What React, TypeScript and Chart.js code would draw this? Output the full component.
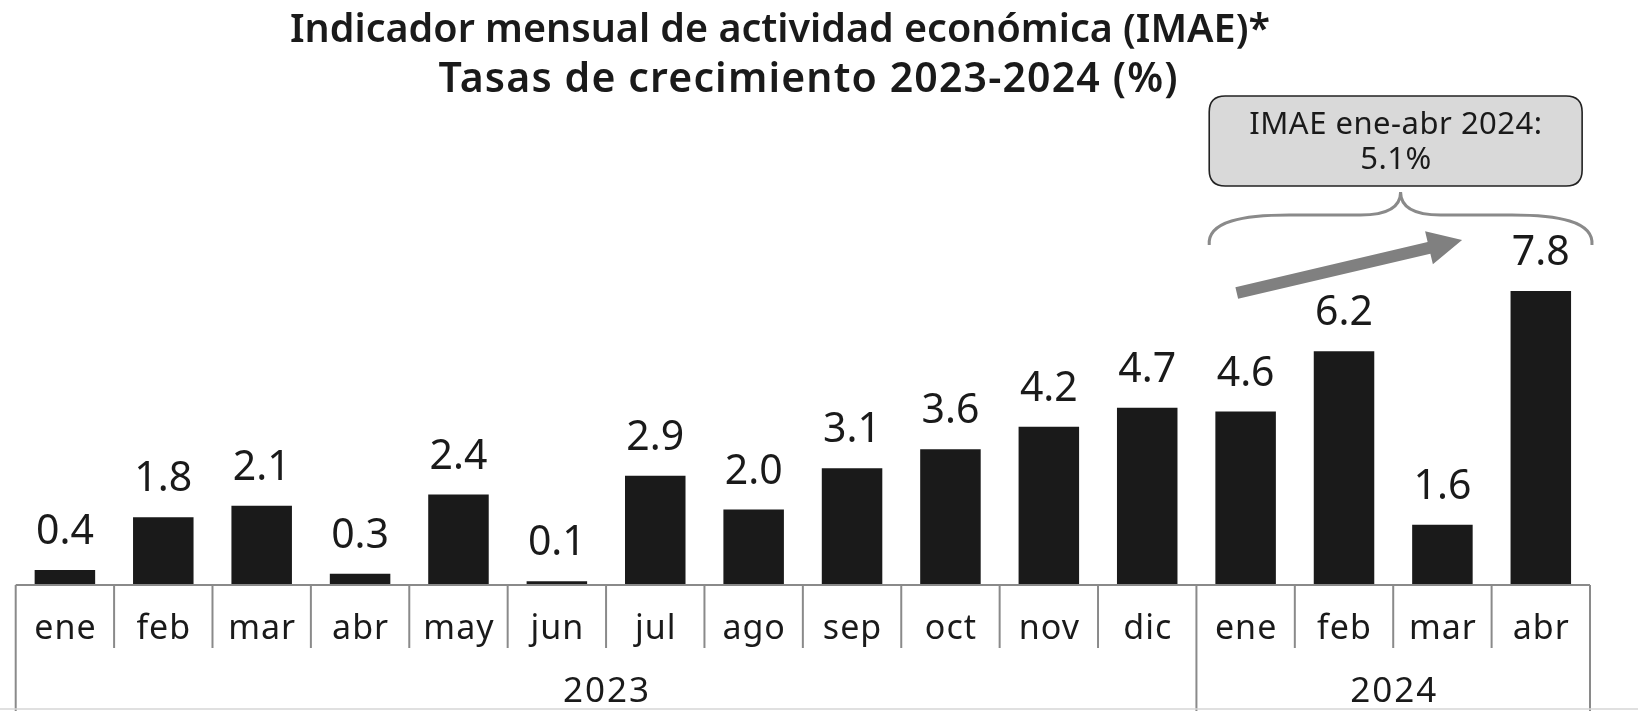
import React, { useEffect, useRef } from "react";
import { Chart, registerables } from "chart.js";

Chart.register(...registerables);

const MONTHS = ["ene", "feb", "mar", "abr", "may", "jun", "jul", "ago", "sep", "oct", "nov", "dic", "ene", "feb", "mar", "abr"];
const VALUES = [0.4, 1.8, 2.1, 0.3, 2.4, 0.1, 2.9, 2.0, 3.1, 3.6, 4.2, 4.7, 4.6, 6.2, 1.6, 7.8];
const YEARS = ["2023", "2024"];
const YEAR_SPANS = [12, 4];
const TITLE_LINES = ["Indicador mensual de actividad económica (IMAE)*", "Tasas de crecimiento 2023-2024 (%)"];
const NOTE_LINES = ["IMAE ene-abr 2024:", "5.1%"];

const FONT = '"Noto Sans", sans-serif';
const INK = "#1a1a1a";
const GRAY = "#8a8a8a";

function fitSize(ctx: CanvasRenderingContext2D, text: string, weight: string, target: number) {
  (ctx as any).letterSpacing = "0px";
  ctx.font = `${weight} 40px ${FONT}`;
  const w = ctx.measureText(text).width;
  return (40 * target) / w;
}

function spacedText(ctx: CanvasRenderingContext2D, text: string, x: number, y: number, ls: number) {
  (ctx as any).letterSpacing = `${ls}px`;
  ctx.fillText(text, x + ls / 2, y);
  (ctx as any).letterSpacing = "0px";
}

function fitSpacing(ctx: CanvasRenderingContext2D, text: string, target: number) {
  (ctx as any).letterSpacing = "0px";
  const w = ctx.measureText(text).width;
  return (target - w) / Math.max(1, text.length - 1);
}

function roundRect(ctx: CanvasRenderingContext2D, x: number, y: number, w: number, h: number, r: number) {
  ctx.beginPath();
  ctx.moveTo(x + r, y);
  ctx.lineTo(x + w - r, y);
  ctx.quadraticCurveTo(x + w, y, x + w, y + r);
  ctx.lineTo(x + w, y + h - r);
  ctx.quadraticCurveTo(x + w, y + h, x + w - r, y + h);
  ctx.lineTo(x + r, y + h);
  ctx.quadraticCurveTo(x, y + h, x, y + h - r);
  ctx.lineTo(x, y + r);
  ctx.quadraticCurveTo(x, y, x + r, y);
  ctx.closePath();
}

const decorPlugin = {
  id: "decor",
  afterDraw(chart: any) {
    const ctx: CanvasRenderingContext2D = chart.ctx;
    const area = chart.chartArea;
    const xs = chart.scales.x;
    const n = MONTHS.length;
    const catW = (area.right - area.left) / n;
    const bottom = area.bottom;
    ctx.save();

    // Title
    const tSize = fitSize(ctx, TITLE_LINES[0], "600", 980);
    ctx.font = `600 ${tSize}px ${FONT}`;
    ctx.fillStyle = INK;
    ctx.textAlign = "center";
    ctx.textBaseline = "alphabetic";
    ctx.fillText(TITLE_LINES[0], 780, 42);
    ctx.font = `600 ${tSize * 1.04}px ${FONT}`;
    const ls2 = fitSpacing(ctx, TITLE_LINES[1], 739);
    spacedText(ctx, TITLE_LINES[1], 808, 92, ls2);

    // Value labels
    const meta = chart.getDatasetMeta(0);
    ctx.font = `400 41px ${FONT}`;
    meta.data.forEach((el: any, i: number) => {
      ctx.fillText(VALUES[i].toFixed(1), el.x, el.y - 26);
    });

    // Axis table
    ctx.strokeStyle = GRAY;
    ctx.lineWidth = 2;
    ctx.beginPath();
    ctx.moveTo(area.left, bottom);
    ctx.lineTo(area.right, bottom);
    ctx.stroke();

    const boundaries = new Set<number>();
    let acc = 0;
    boundaries.add(0);
    YEAR_SPANS.forEach((s) => {
      acc += s;
      boundaries.add(acc);
    });
    for (let i = 0; i <= n; i++) {
      const xx = i === n ? xs.getPixelForValue(n - 1) + catW / 2 : xs.getPixelForValue(i) - catW / 2;
      ctx.beginPath();
      ctx.moveTo(xx, bottom);
      ctx.lineTo(xx, boundaries.has(i) ? chart.height : bottom + 63);
      ctx.stroke();
    }

    ctx.fillStyle = INK;
    ctx.font = `400 34px ${FONT}`;
    MONTHS.forEach((m, i) => {
      spacedText(ctx, m, xs.getPixelForValue(i), bottom + 54, 1);
    });
    ctx.font = `400 35px ${FONT}`;
    let start = 0;
    YEARS.forEach((y, k) => {
      const end = start + YEAR_SPANS[k] - 1;
      const cx = (xs.getPixelForValue(start) + xs.getPixelForValue(end)) / 2;
      spacedText(ctx, y, cx, bottom + 117, 2);
      start = end + 1;
    });

    ctx.strokeStyle = "#d6d6d6";
    ctx.lineWidth = 1.5;
    ctx.beginPath();
    ctx.moveTo(0, chart.height - 2);
    ctx.lineTo(chart.width, chart.height - 2);
    ctx.stroke();

    // Annotation box
    const x12 = xs.getPixelForValue(12);
    const x15 = xs.getPixelForValue(15);
    const bl = x12 - 0.37 * catW;
    const br = x15 + 0.42 * catW;
    const bt = 96;
    const bb = 186;
    roundRect(ctx, bl, bt, br - bl, bb - bt, 16);
    ctx.fillStyle = "#d9d9d9";
    ctx.fill();
    ctx.strokeStyle = "#222";
    ctx.lineWidth = 1.6;
    ctx.stroke();
    ctx.fillStyle = INK;
    ctx.font = `400 31px ${FONT}`;
    const bcx = (bl + br) / 2;
    spacedText(ctx, NOTE_LINES[0], bcx, 134, 0.5);
    spacedText(ctx, NOTE_LINES[1], bcx, 169, 0.5);

    // Brace
    const L = bl;
    const R = x15 + 0.52 * catW;
    const tipX = (L + R) / 2;
    const yTip = 192;
    const yFlat = 215;
    const yEnd = 245;
    ctx.strokeStyle = GRAY;
    ctx.lineWidth = 3;
    ctx.beginPath();
    ctx.moveTo(L, yEnd);
    ctx.bezierCurveTo(L - 2, yFlat + 6, L + 35, yFlat, L + 80, yFlat);
    ctx.lineTo(tipX - 40, yFlat);
    ctx.bezierCurveTo(tipX - 12, yFlat, tipX, yFlat - 8, tipX, yTip);
    ctx.bezierCurveTo(tipX, yFlat - 8, tipX + 12, yFlat, tipX + 40, yFlat);
    ctx.lineTo(R - 80, yFlat);
    ctx.bezierCurveTo(R - 35, yFlat, R + 2, yFlat + 6, R, yEnd);
    ctx.stroke();

    // Arrow
    const ax0 = x12 - 0.09 * catW;
    const ay0 = 293;
    const ax1 = x15 - 0.8 * catW;
    const ay1 = 240;
    const ang = Math.atan2(ay1 - ay0, ax1 - ax0);
    const headLen = 34;
    const headW = 17;
    const shaft = 6;
    const bx = ax1 - headLen * Math.cos(ang);
    const by = ay1 - headLen * Math.sin(ang);
    const px = -Math.sin(ang);
    const py = Math.cos(ang);
    ctx.fillStyle = "#808080";
    ctx.beginPath();
    ctx.moveTo(ax0 + px * shaft, ay0 + py * shaft);
    ctx.lineTo(bx + px * shaft, by + py * shaft);
    ctx.lineTo(bx + px * headW, by + py * headW);
    ctx.lineTo(ax1, ay1);
    ctx.lineTo(bx - px * headW, by - py * headW);
    ctx.lineTo(bx - px * shaft, by - py * shaft);
    ctx.lineTo(ax0 - px * shaft, ay0 - py * shaft);
    ctx.closePath();
    ctx.fill();

    ctx.restore();
  },
};

export default function App() {
  const ref = useRef<HTMLCanvasElement | null>(null);
  useEffect(() => {
    document.body.style.margin = "0";
    document.body.style.background = "#fff";
    if (!ref.current) return;
    const Y_MAX = 12;
    const bottomY = 585;
    const pxPerUnit = 37.7;
    const chart = new Chart(ref.current, {
      type: "bar",
      data: {
        labels: MONTHS.map((m, i) => `${m}-${i}`),
        datasets: [
          {
            data: VALUES,
            backgroundColor: INK,
            borderWidth: 0,
            barPercentage: 0.615,
            categoryPercentage: 1,
          },
        ],
      },
      options: {
        animation: false,
        responsive: true,
        maintainAspectRatio: false,
        layout: {
          padding: {
            left: 15.7,
            right: 48,
            top: bottomY - Y_MAX * pxPerUnit,
            bottom: 711 - bottomY,
          },
        },
        plugins: {
          legend: { display: false },
          title: { display: false },
          tooltip: { enabled: false },
        },
        scales: {
          x: { display: false, offset: true },
          y: { display: false, min: 0, max: Y_MAX },
        },
      },
      plugins: [decorPlugin],
    });
    return () => chart.destroy();
  }, []);
  return (
    <div style={{ width: 1638, height: 711, position: "relative", background: "#fff" }}>
      <canvas ref={ref} />
    </div>
  );
}
